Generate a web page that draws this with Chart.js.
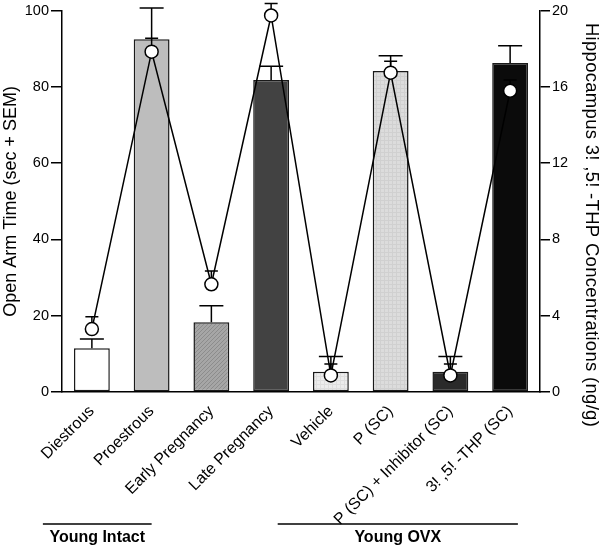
<!DOCTYPE html>
<html>
<head>
<meta charset="utf-8">
<title>Open Arm Time and Hippocampus 3α,5α-THP</title>
<script src="https://cdn.jsdelivr.net/npm/chart.js"></script>
<style>
  body { margin: 0; background: #fff; }
  #wrap { width: 600px; height: 547px; }
</style>
</head>
<body>
<div id="wrap"><canvas id="chart" width="600" height="547"></canvas></div>
<script>
// Data
const categories = ['Diestrous', 'Proestrous', 'Early Pregnancy', 'Late Pregnancy',
  'Vehicle', 'P (SC)', 'P (SC) + Inhibitor (SC)', '3! ,5! -THP (SC)'];
const openArmTime = [11.5, 92.5, 18.3, 81.8, 5.3, 84.2, 5.3, 86.3];
const openArmSem = [2.4, 8.2, 4.3, 3.6, 4.0, 4.0, 4.0, 4.5];
const thpConc = [3.3, 17.85, 5.65, 19.75, 0.87, 16.75, 0.87, 15.8];
const thpSem = [0.65, 0.7, 0.7, 0.63, 0.6, 0.6, 0.6, 0.57];
const leftTicks = [0, 20, 40, 60, 80, 100];
const rightTicks = [0, 4, 8, 12, 16, 20];
const groups = [
  { label: 'Young Intact', from: -0.82, to: 1.0 },
  { label: 'Young OVX', from: 3.11, to: 7.13 }
];

// Bar fills
function texture(base, line, kind) {
  const c = document.createElement('canvas');
  c.width = 4; c.height = 4;
  const g = c.getContext('2d');
  g.fillStyle = base;
  g.fillRect(0, 0, 4, 4);
  g.strokeStyle = line;
  g.lineWidth = 1;
  g.beginPath();
  if (kind === 'diag') { g.moveTo(0, 4); g.lineTo(4, 0); }
  else { g.moveTo(0, 0.5); g.lineTo(4, 0.5); g.moveTo(0.5, 0); g.lineTo(0.5, 4); }
  g.stroke();
  return g.createPattern(c, 'repeat');
}
const ctx = document.getElementById('chart').getContext('2d');
const barFills = [
  '#ffffff',
  '#bdbdbd',
  texture('#a6a6a6', '#8c8c8c', 'diag'),
  '#424242',
  texture('#ececec', '#dedede', 'grid'),
  texture('#dcdcdc', '#d0d0d0', 'grid'),
  '#2a2a2a',
  '#0b0b0b'
];

// Error bars (+SEM only)
const errorBars = {
  id: 'errorBars',
  afterDatasetDraw(chart, args) {
    const c = chart.ctx;
    const isBar = args.index === 0;
    const xs = chart.scales.x;
    const ys = chart.scales[isBar ? 'y' : 'y1'];
    const vals = isBar ? openArmTime : thpConc;
    const errs = isBar ? openArmSem : thpSem;
    const half = isBar ? 12 : 6.5;
    c.save();
    c.strokeStyle = '#000';
    c.lineWidth = 1.5;
    vals.forEach((v, i) => {
      const px = xs.getPixelForValue(i);
      const yBase = ys.getPixelForValue(v) - (isBar ? 0 : 6.5);
      const yTop = ys.getPixelForValue(v + errs[i]);
      c.beginPath();
      c.moveTo(px, yBase); c.lineTo(px, yTop);
      c.moveTo(px - half, yTop); c.lineTo(px + half, yTop);
      c.stroke();
    });
    c.restore();
  }
};

// Group lines under the axis + right axis title
const extras = {
  id: 'extras',
  afterDraw(chart) {
    const c = chart.ctx;
    const xs = chart.scales.x;
    c.save();
    c.strokeStyle = '#000';
    c.fillStyle = '#000';
    c.lineWidth = 1.5;
    c.font = 'bold 16px Arial, "Liberation Sans", sans-serif';
    c.textAlign = 'center';
    c.textBaseline = 'middle';
    groups.forEach(g => {
      const a = xs.getPixelForValue(g.from), b = xs.getPixelForValue(g.to);
      c.beginPath(); c.moveTo(a, 524); c.lineTo(b, 524); c.stroke();
      c.fillText(g.label, (a + b) / 2, 538);
    });
    c.translate(591, 225);
    c.rotate(Math.PI / 2);
    c.font = '18.5px Arial, "Liberation Sans", sans-serif';
    c.letterSpacing = '0.3px';
    c.fillText('Hippocampus 3! ,5! -THP Concentrations (ng/g)', 0, 0);
    c.restore();
  }
};

const font = 'Arial, "Liberation Sans", sans-serif';

new Chart(ctx, {
  type: 'bar',
  data: {
    labels: categories,
    datasets: [
      {
        label: 'Open Arm Time',
        data: openArmTime,
        yAxisID: 'y',
        backgroundColor: barFills,
        borderColor: '#1a1a1a',
        borderWidth: 1.5,
        borderSkipped: false,
        categoryPercentage: 1,
        barPercentage: 0.6,
        order: 1
      },
      {
        type: 'line',
        label: 'Hippocampus 3α,5α-THP',
        data: thpConc,
        yAxisID: 'y1',
        borderColor: '#000',
        borderWidth: 1.5,
        tension: 0,
        pointRadius: 6.5,
        pointBackgroundColor: '#fff',
        pointBorderColor: '#000',
        pointBorderWidth: 1.5,
        clip: false,
        order: 0
      }
    ]
  },
  options: {
    responsive: false,
    animation: false,
    devicePixelRatio: 1,
    layout: { padding: { top: 10, left: 0, right: 0, bottom: 0 } },
    plugins: { legend: { display: false }, tooltip: { enabled: false } },
    scales: {
      x: {
        grid: { display: false },
        border: { color: '#000', width: 1.5 },
        ticks: { color: '#000', font: { family: font, size: 16 }, minRotation: 45, maxRotation: 45, padding: 2 },
        afterFit(s) { s.height = 155; }
      },
      y: {
        position: 'left',
        min: 0, max: 100,
        afterBuildTicks(s) { s.ticks = leftTicks.map(v => ({ value: v })); },
        grid: { drawOnChartArea: false, color: '#000', lineWidth: 1.5, tickLength: 11 },
        border: { color: '#000', width: 1.5 },
        ticks: { color: '#000', font: { family: font, size: 14.5 }, padding: 2 },
        title: { display: true, text: 'Open Arm Time (sec + SEM)', color: '#000',
                 font: { family: font, size: 18 }, padding: { top: 0, bottom: 0 } },
        afterFit(s) { s.width = 62; }
      },
      y1: {
        position: 'right',
        min: 0, max: 20,
        afterBuildTicks(s) { s.ticks = rightTicks.map(v => ({ value: v })); },
        grid: { drawOnChartArea: false, color: '#000', lineWidth: 1.5, tickLength: 10 },
        border: { color: '#000', width: 1.5 },
        ticks: { color: '#000', font: { family: font, size: 14.5 }, padding: 2 },
        afterFit(s) { s.width = 60; }
      }
    }
  },
  plugins: [errorBars, extras]
});
</script>
</body>
</html>
